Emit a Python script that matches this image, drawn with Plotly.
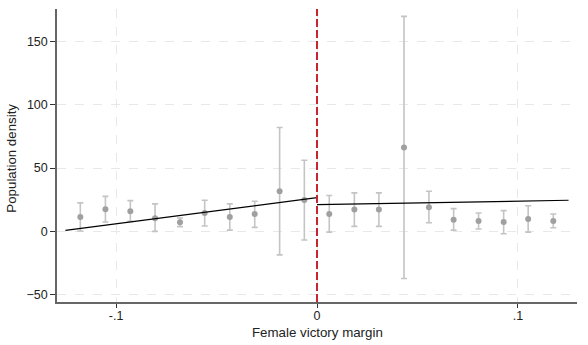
import plotly.graph_objects as go

# Binned means of population density by female victory margin, with 95% CIs
left_x = [-0.1178, -0.1053, -0.0929, -0.0806, -0.0682, -0.0559, -0.0434, -0.0310, -0.0186, -0.0063]
left_y = [11.3, 17.3, 15.7, 10.2, 7.0, 14.4, 11.3, 13.6, 31.6, 24.7]
left_hi = [22.4, 27.6, 24.2, 21.6, 10.5, 24.5, 21.6, 23.7, 82.0, 56.2]
left_lo = [0.2, 7.3, 7.8, -0.1, 3.6, 4.1, 0.9, 3.0, -18.7, -7.0]

right_x = [0.0061, 0.0186, 0.0308, 0.0433, 0.0557, 0.0680, 0.0804, 0.0929, 0.1051, 0.1176]
right_y = [13.6, 17.1, 17.1, 66.3, 18.9, 9.1, 8.1, 7.3, 9.7, 8.1]
right_hi = [28.2, 30.3, 30.3, 170.0, 31.6, 17.9, 14.4, 16.3, 20.2, 13.6]
right_lo = [-0.7, 3.8, 3.8, -37.4, 6.7, 0.9, 1.7, -2.0, -0.7, 2.8]

# Linear fits on each side of the cutoff
fit_left_x = [-0.1252, 0.0]
fit_left_y = [0.6, 26.6]
fit_right_x = [0.0, 0.1252]
fit_right_y = [21.0, 24.5]

y_ticks = [-50, 0, 50, 100, 150]
x_ticks = [-0.1, 0, 0.1]
x_tick_text = ["-.1", "0", ".1"]

fig = go.Figure()

for xs, ys, hi, lo in [(left_x, left_y, left_hi, left_lo), (right_x, right_y, right_hi, right_lo)]:
    fig.add_trace(go.Scatter(
        x=xs, y=ys, mode="markers",
        marker=dict(color="#a0a0a0", size=6),
        error_y=dict(
            type="data", symmetric=False,
            array=[h - v for h, v in zip(hi, ys)],
            arrayminus=[v - l for v, l in zip(ys, lo)],
            color="#c4c4c4", thickness=1.6, width=3,
        ),
        showlegend=False,
    ))

for xs, ys in [(fit_left_x, fit_left_y), (fit_right_x, fit_right_y)]:
    fig.add_trace(go.Scatter(
        x=xs, y=ys, mode="lines",
        line=dict(color="black", width=1.2),
        showlegend=False,
    ))

# Cutoff line at zero
fig.add_shape(
    type="line", x0=0, x1=0, y0=0, y1=1, xref="x", yref="paper",
    line=dict(color="#c9252f", width=2, dash="8px,3px"),
)

# Axis titles placed as annotations so the margins stay fixed
fig.add_annotation(
    text="Female victory margin", xref="paper", yref="paper",
    x=0.5, y=-0.105, showarrow=False, xanchor="center", yanchor="middle",
    font=dict(size=13.3),
)
fig.add_annotation(
    text="Population density", xref="paper", yref="paper",
    x=-0.088, y=0.49, showarrow=False, xanchor="center", yanchor="middle",
    textangle=-90, font=dict(size=13.3),
)

fig.update_layout(
    width=588, height=345,
    margin=dict(l=57, r=11, t=9, b=43),
    paper_bgcolor="white", plot_bgcolor="white",
    font=dict(family="Liberation Sans, Arial, sans-serif", size=12.5, color="#222"),
    xaxis=dict(
        range=[-0.1294, 0.1294], automargin=False,
        tickvals=x_ticks, ticktext=x_tick_text,
        showgrid=True, gridcolor="#e8e8e8", griddash="dash", gridwidth=1,
        zeroline=False,
        showline=True, linecolor="#666", linewidth=1.5,
        ticks="outside", ticklen=4, tickcolor="#333", tickwidth=1,
        ticklabelstandoff=-3,
    ),
    yaxis=dict(
        range=[-56, 175.8], automargin=False,
        tickvals=y_ticks,
        showgrid=True, gridcolor="#e8e8e8", griddash="dash", gridwidth=1,
        zeroline=False,
        showline=True, linecolor="#666", linewidth=1.5,
        ticks="outside", ticklen=5, tickcolor="#333", tickwidth=1,
    ),
)

fig.write_html("out.html")
